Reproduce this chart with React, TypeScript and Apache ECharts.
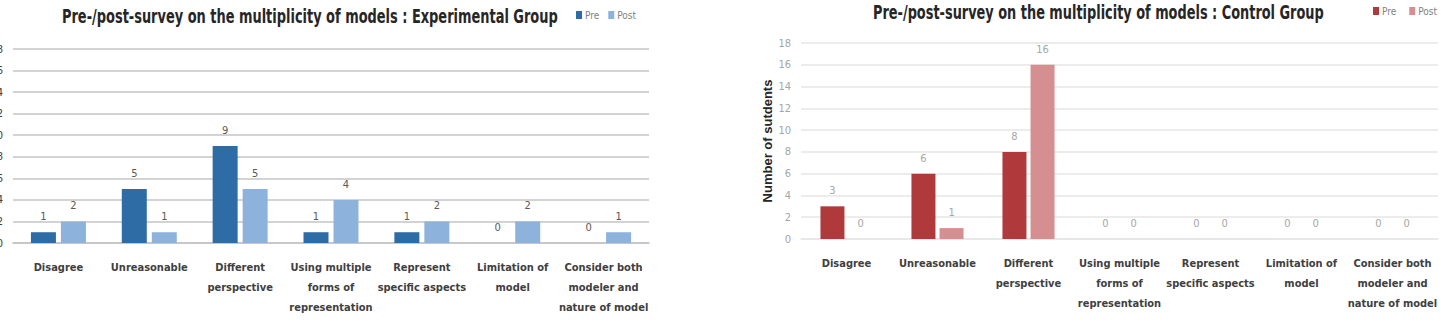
import React, { useEffect, useRef } from "react";
import * as echarts from "echarts";

const categories = [
  "Disagree",
  "Unreasonable",
  "Different\nperspective",
  "Using multiple\nforms of\nrepresentation",
  "Represent\nspecific aspects",
  "Limitation of\nmodel",
  "Consider both\nmodeler and\nnature of model",
];
const expPre = [1, 5, 9, 1, 1, 0, 0];
const expPost = [2, 1, 5, 4, 2, 2, 1];
const ctrlPre = [3, 6, 8, 0, 0, 0, 0];
const ctrlPost = [0, 1, 16, 0, 0, 0, 0];
const yMin = 0;
const yMax = 18;
const yStep = 2;

const FONT = "'DejaVu Sans Condensed', 'Liberation Sans', sans-serif";

function makeOption(p: {
  title: string;
  titleX: number;
  titleY: number;
  titleScale: number;
  legendLeft: number;
  legendTop: number;
  legendGap: number;
  grid: any;
  pre: number[];
  post: number[];
  preColor: string;
  postColor: string;
  gridColor: string;
  yLabelColor: string;
  valueColor: string;
  yName?: string;
  barWidth: number;
  barGap: string;
}) {
  return {
    animation: false,
    graphic: [
      {
        type: "text",
        x: p.titleX,
        y: p.titleY,
        scaleX: p.titleScale,
        style: {
          text: p.title,
          fontFamily: FONT,
          fontWeight: "bold",
          fontSize: 19,
          fill: "#262626",
          verticalAlign: "middle",
          align: "left",
        },
      },
    ],
    legend: {
      left: p.legendLeft,
      top: p.legendTop,
      width: 300,
      padding: 0,
      orient: "horizontal",
      icon: "rect",
      itemWidth: 6,
      itemHeight: 8,
      itemGap: p.legendGap,
      textStyle: { fontFamily: FONT, fontSize: 10, color: "#7f7f7f", padding: [0, 0, 0, -2] },
      data: ["Pre", "Post"],
    },
    grid: { ...p.grid, containLabel: false, outerBoundsMode: "none" },
    xAxis: {
      type: "category",
      data: categories,
      axisLine: { show: true, lineStyle: { color: p.gridColor, width: 1.5 } },
      axisTick: { show: false },
      axisLabel: {
        interval: 0,
        margin: 14,
        lineHeight: 20,
        fontFamily: FONT,
        fontWeight: "bold",
        fontSize: 11,
        color: "#404040",
        align: "center",
      },
    },
    yAxis: {
      type: "value",
      min: yMin,
      max: yMax,
      interval: yStep,
      name: p.yName,
      nameLocation: "middle",
      nameRotate: 90,
      nameGap: 27,
      nameMoveOverlap: false,
      nameTextStyle: { fontFamily: "'Liberation Sans', sans-serif", fontWeight: "bold", fontSize: 13, color: "#262626" },
      axisLine: { show: false },
      axisTick: { show: false },
      axisLabel: { margin: 10, fontFamily: FONT, fontSize: 11, color: p.yLabelColor },
      splitLine: { lineStyle: { color: p.gridColor, width: 1.5 } },
    },
    series: [
      {
        name: "Pre",
        type: "bar",
        data: p.pre,
        barWidth: p.barWidth,
        barGap: p.barGap,
        itemStyle: { color: p.preColor },
        label: { show: true, position: "top", distance: 10, fontFamily: FONT, fontSize: 11, color: p.valueColor },
      },
      {
        name: "Post",
        type: "bar",
        data: p.post,
        barWidth: p.barWidth,
        barGap: p.barGap,
        itemStyle: { color: p.postColor },
        label: { show: true, position: "top", distance: 10, fontFamily: FONT, fontSize: 11, color: p.valueColor },
      },
    ],
  };
}

export default function App() {
  const leftRef = useRef<HTMLDivElement>(null);
  const rightRef = useRef<HTMLDivElement>(null);

  useEffect(() => {
    const left = echarts.init(leftRef.current!, undefined, { renderer: "svg" });
    const right = echarts.init(rightRef.current!, undefined, { renderer: "svg" });
    left.setOption(
      makeOption({
        title: "Pre-/post-survey on the multiplicity of models : Experimental Group",
        titleX: 62,
        titleY: 16,
        titleScale: 0.758,
        legendLeft: 576,
        legendTop: 10,
        legendGap: 9,
        grid: { left: 13, right: 71, top: 49, bottom: 83 },
        pre: expPre,
        post: expPost,
        preColor: "#2E6CA6",
        postColor: "#8DB3DC",
        gridColor: "#C4C4C4",
        yLabelColor: "#404040",
        valueColor: "#595959",
        barWidth: 25,
        barGap: "20%",
      })
    );
    right.setOption(
      makeOption({
        title: "Pre-/post-survey on the multiplicity of models : Control Group",
        titleX: 153,
        titleY: 12,
        titleScale: 0.755,
        legendLeft: 653,
        legendTop: 6,
        legendGap: 13,
        grid: { left: 81, right: 3, top: 43, bottom: 87 },
        pre: ctrlPre,
        post: ctrlPost,
        preColor: "#B03A3B",
        postColor: "#D58F90",
        gridColor: "#E6E6E6",
        yLabelColor: "#A6A6A6",
        valueColor: "#A6A6A6",
        yName: "Number of sutdents",
        barWidth: 24,
        barGap: "17%",
      })
    );
    return () => {
      left.dispose();
      right.dispose();
    };
  }, []);

  return (
    <div style={{ position: "absolute", left: 0, top: 0, width: 1441, height: 326, background: "#fff", overflow: "hidden" }}>
      <div ref={leftRef} style={{ position: "absolute", left: 0, top: 0, width: 720, height: 326 }} />
      <div ref={rightRef} style={{ position: "absolute", left: 720, top: 0, width: 721, height: 326 }} />
    </div>
  );
}
